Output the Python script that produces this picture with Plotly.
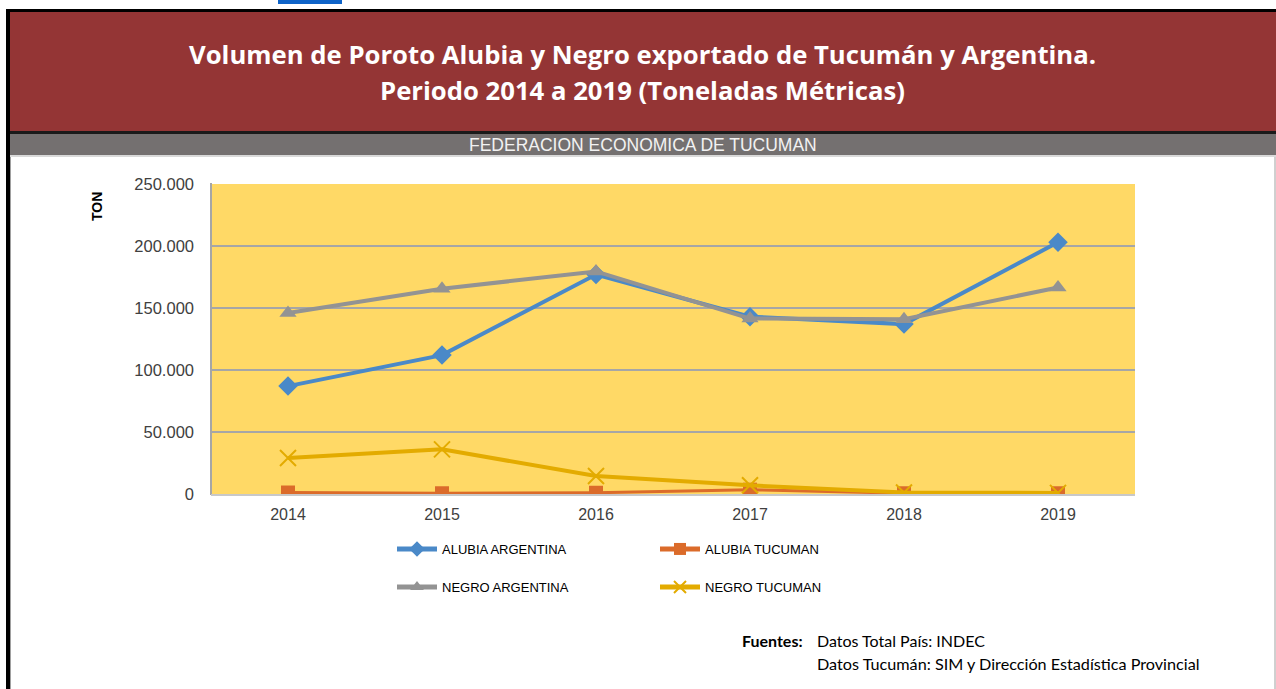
import plotly.graph_objects as go

W, H = 1276, 689

years = ["2014", "2015", "2016", "2017", "2018", "2019"]
alubia_argentina = [87000, 112000, 177000, 143000, 137000, 203000]
alubia_tucuman = [1200, 600, 1000, 3500, 600, 600]
negro_argentina = [146000, 165500, 179500, 141500, 141000, 166500]
negro_tucuman = [29000, 36000, 14500, 7000, 1200, 900]

series_names = ["ALUBIA ARGENTINA", "ALUBIA TUCUMAN", "NEGRO ARGENTINA", "NEGRO TUCUMAN"]
y_ticks = [0, 50000, 100000, 150000, 200000, 250000]
y_tick_labels = ["0", "50.000", "100.000", "150.000", "200.000", "250.000"]


def px(x):
    return x / W


def py(y):
    return 1 - y / H


fig = go.Figure()

styles = [
    dict(color="#4A89C8", width=4, symbol="diamond", size=15, legend="legend"),
    dict(color="#DB6B2A", width=3, symbol="square", size=14, legend="legend"),
    dict(color="#939393", width=4, symbol="triangle-up", size=15, legend="legend2"),
    dict(color="#E3AB00", width=4, symbol="x-thin", size=16, legend="legend2"),
]
data = [alubia_argentina, alubia_tucuman, negro_argentina, negro_tucuman]

for name, vals, st in zip(series_names, data, styles):
    marker = dict(symbol=st["symbol"], size=st["size"], color=st["color"])
    if st["symbol"] == "x-thin":
        marker["line"] = dict(color=st["color"], width=2)
    fig.add_trace(go.Scatter(
        x=years, y=vals, name=name, mode="lines+markers",
        line=dict(color=st["color"], width=st["width"]),
        marker=marker, legend=st["legend"],
    ))

shapes = []
shapes.append(dict(type="rect", xref="paper", yref="paper", x0=px(278), x1=px(342), y0=py(4), y1=py(0),
                   fillcolor="#0E63C8", line=dict(width=0), layer="above"))
shapes.append(dict(type="rect", xref="paper", yref="paper", x0=px(10), x1=px(W), y0=py(132), y1=py(11),
                   fillcolor="#943535", line=dict(width=0)))
shapes.append(dict(type="rect", xref="paper", yref="paper", x0=px(10), x1=px(W), y0=py(134), y1=py(131),
                   fillcolor="#1a1a1a", line=dict(width=0)))
shapes.append(dict(type="rect", xref="paper", yref="paper", x0=px(10), x1=px(W), y0=py(155), y1=py(134),
                   fillcolor="#747070", line=dict(width=0)))
shapes.append(dict(type="rect", xref="paper", yref="paper", x0=px(10), x1=px(W), y0=py(157), y1=py(155),
                   fillcolor="#d9d9d9", line=dict(width=0)))
shapes.append(dict(type="rect", xref="paper", yref="paper", x0=px(6), x1=px(W), y0=py(12), y1=py(9),
                   fillcolor="#000000", line=dict(width=0)))
shapes.append(dict(type="rect", xref="paper", yref="paper", x0=px(6), x1=px(10), y0=0, y1=py(9),
                   fillcolor="#000000", line=dict(width=0)))
shapes.append(dict(type="line", xref="paper", yref="paper", x0=px(10.5), x1=px(10.5), y0=0, y1=py(157),
                   line=dict(color="#a0a0a0", width=1)))
shapes.append(dict(type="line", xref="paper", yref="paper", x0=px(1275), x1=px(1275), y0=0, y1=py(157),
                   line=dict(color="#a0a0a0", width=1)))
shapes.append(dict(type="line", xref="paper", yref="paper", x0=px(211), x1=px(211), y0=py(495), y1=py(183),
                   line=dict(color="#a6a6a6", width=2), layer="below"))
shapes.append(dict(type="line", xref="paper", yref="paper", x0=px(211), x1=px(1135), y0=py(495), y1=py(495),
                   line=dict(color="#c8c8c8", width=2), layer="below"))

annotations = [
    dict(text="<b>Volumen de Poroto Alubia y Negro exportado de Tucumán y Argentina.</b>",
         xref="paper", yref="paper", x=px(642), y=py(54), showarrow=False,
         font=dict(family="Open Sans", size=25.7, color="white"), xanchor="center", yanchor="middle"),
    dict(text="<b>Periodo 2014 a 2019 (Toneladas Métricas)</b>",
         xref="paper", yref="paper", x=px(642), y=py(90), showarrow=False,
         font=dict(family="Open Sans", size=25.7, color="white"), xanchor="center", yanchor="middle"),
    dict(text="FEDERACION ECONOMICA DE TUCUMAN",
         xref="paper", yref="paper", x=px(643), y=py(145), showarrow=False,
         font=dict(family="Liberation Sans", size=17.5, color="#f2f2f2"), xanchor="center", yanchor="middle"),
    dict(text="<b>TON</b>", textangle=-90,
         xref="paper", yref="paper", x=px(97), y=py(206), showarrow=False,
         font=dict(family="Liberation Sans", size=14, color="#000000"), xanchor="center", yanchor="middle"),
    dict(text="<b>Fuentes:</b>",
         xref="paper", yref="paper", x=px(740), y=py(640), showarrow=False,
         font=dict(family="Lato", size=16, color="#000000"), xanchor="left", yanchor="middle"),
    dict(text="Datos Total País: INDEC",
         xref="paper", yref="paper", x=px(815), y=py(640), showarrow=False,
         font=dict(family="Lato", size=16, color="#000000"), xanchor="left", yanchor="middle"),
    dict(text="Datos Tucumán: SIM y Dirección Estadística Provincial",
         xref="paper", yref="paper", x=px(815), y=py(663), showarrow=False,
         font=dict(family="Lato", size=16.2, color="#000000"), xanchor="left", yanchor="middle"),
]

legend_common = dict(orientation="h", xanchor="left", yanchor="middle",
                     font=dict(family="Liberation Sans", size=13, color="#000000"),
                     entrywidth=208, entrywidthmode="pixels", itemwidth=40,
                     itemsizing="constant",
                     bgcolor="rgba(0,0,0,0)", tracegroupgap=0)

fig.update_layout(
    width=W, height=H,
    margin=dict(l=0, r=0, t=0, b=0),
    paper_bgcolor="white",
    plot_bgcolor="#FFD966",
    separators=",.",
    showlegend=True,
    legend=dict(x=px(392), y=py(549), **legend_common),
    legend2=dict(x=px(392), y=py(587), **legend_common),
    xaxis=dict(domain=[px(211), px(1135)], type="category", range=[-0.5, 5.5],
               showgrid=False, zeroline=False, showline=False, ticks="",
               tickfont=dict(family="Liberation Sans", size=16, color="#404040"),
               ticklabelstandoff=9, automargin=False),
    yaxis=dict(domain=[py(494), py(184)], range=[0, 250000],
               tickvals=y_ticks, ticktext=y_tick_labels,
               showgrid=True, gridcolor="#a6a6a6", gridwidth=2, zeroline=False,
               showline=False, ticks="",
               tickfont=dict(family="Liberation Sans", size=16.5, color="#404040"),
               ticklabelstandoff=16, automargin=False),
    shapes=shapes,
    annotations=annotations,
)

fig.write_html("out.html", config={"displayModeBar": False},
               post_script="document.body.style.margin='0';")
